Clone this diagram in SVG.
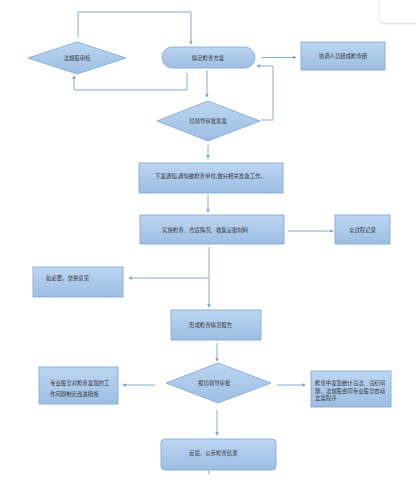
<svg xmlns="http://www.w3.org/2000/svg" width="416" height="498" viewBox="0 0 416 498">
<defs>
<linearGradient id="g" x1="0" y1="0" x2="0" y2="1">
<stop offset="0" stop-color="#bdd6f1"/>
<stop offset="1" stop-color="#9dbde3"/>
</linearGradient>
<marker id="a" viewBox="0 0 6 6" refX="5" refY="3" markerWidth="4" markerHeight="4" orient="auto" markerUnits="userSpaceOnUse">
<path d="M0,0 L6,3 L0,6 z" fill="#7ea6d2"/>
</marker>
<filter id="sh" x="-20%" y="-20%" width="140%" height="140%">
<feGaussianBlur stdDeviation="1.2"/>
</filter>
</defs>
<style>
.n{fill:url(#g);stroke:#86acd6;stroke-width:0.9}
.c{fill:none;stroke:#87aad4;stroke-width:1}
.t{font-family:"Noto Sans CJK SC","Noto Sans",sans-serif;font-size:5.4px;fill:#333}
</style>
<rect width="416" height="498" fill="#ffffff"/>
<g id="card">
<rect x="380" y="-10" width="48" height="34" rx="4" fill="#000" opacity="0.12" filter="url(#sh)"/>
<rect x="379" y="-10" width="48" height="33" rx="4" fill="#fff" stroke="#dcdcdc" stroke-width="0.6"/>
</g>
<g id="connectors">
<polyline class="c" points="78,37 78,12 191,12 191,44" marker-end="url(#a)"/>
<polyline class="c" points="187,73 187,90 74,90 74,76" marker-end="url(#a)"/>
<line class="c" x1="262" y1="57.5" x2="296" y2="57.5" marker-end="url(#a)"/>
<line class="c" x1="207" y1="70" x2="207" y2="97" marker-end="url(#a)"/>
<polyline class="c" points="261,120 273,120 273,66 257,66" marker-end="url(#a)"/>
<line class="c" x1="208" y1="145" x2="208" y2="158" marker-end="url(#a)"/>
<line class="c" x1="208" y1="195" x2="208" y2="212" marker-end="url(#a)"/>
<line class="c" x1="288" y1="231" x2="333" y2="231" marker-end="url(#a)"/>
<line class="c" x1="209" y1="247" x2="209" y2="307" marker-end="url(#a)"/>
<line class="c" x1="209" y1="278" x2="129" y2="278" marker-end="url(#a)"/>
<line class="c" x1="217" y1="343" x2="217" y2="361" marker-end="url(#a)"/>
<line class="c" x1="155" y1="385" x2="123" y2="385" marker-end="url(#a)"/>
<line class="c" x1="277" y1="385" x2="305" y2="385" marker-end="url(#a)"/>
<line class="c" x1="217" y1="410" x2="217" y2="435" marker-end="url(#a)"/>
</g>
<g id="n1">
<polygon class="n" points="28,58 77,42 126,58 77,74"/>
<text class="t" x="77" y="60" text-anchor="middle">法规股审核</text>
</g>
<g id="n2">
<rect class="n" x="162" y="47" width="93" height="21" rx="10.5"/>
<text class="t" x="208" y="59.5" text-anchor="middle">拟定检查方案</text>
</g>
<g id="n3">
<rect class="n" x="301" y="42" width="84" height="28"/>
<text class="t" x="343" y="58" text-anchor="middle">协调人员组成检查组</text>
</g>
<g id="n4">
<polygon class="n" points="157,121 208,101 260,121 208,141"/>
<text class="t" x="208" y="123" text-anchor="middle">局领导审批签发</text>
</g>
<g id="n5">
<rect class="n" x="139" y="163" width="144" height="30"/>
<text class="t" x="155" y="178">下发通知,通知被检查单位,做好相关准备工作。</text>
</g>
<g id="n6">
<rect class="n" x="140" y="215" width="144" height="29"/>
<text class="t" x="162" y="232">实施检查、合适情况、收集证据材料</text>
</g>
<g id="n7">
<rect class="n" x="335" y="215" width="55" height="29"/>
<text class="t" x="362.5" y="232" text-anchor="middle">全过程记录</text>
</g>
<g id="n8">
<rect class="n" x="33" y="267" width="90" height="30"/>
<text class="t" x="46" y="280">如必要，交换意见</text>
</g>
<g id="n9">
<rect class="n" x="171" y="310" width="90" height="30"/>
<text class="t" x="189" y="327">形成检查情况报告</text>
</g>
<g id="n10">
<polygon class="n" points="166,383 218,363 271,383 218,403"/>
<text class="t" x="198" y="385">报局领导审批</text>
</g>
<g id="n11">
<rect class="n" x="39" y="367" width="79" height="37"/>
<text class="t" x="50" y="385">专业股室对检查发现的工</text>
<text class="t" x="50" y="396">作问题制定改进措施</text>
</g>
<g id="n12">
<rect class="n" x="311" y="371" width="80" height="36"/>
<text class="t" x="315" y="385">检查中发现统计违法、违纪问</text>
<text class="t" x="315" y="392.5">题，法规股会同专业股室启动</text>
<text class="t" x="315" y="400">立案程序</text>
</g>
<g id="n13">
<rect class="n" x="161" y="439" width="115" height="31" rx="4"/>
<text class="t" x="189" y="455">反馈、公示检查结果</text>
</g>
<text x="209" y="474" font-family="Liberation Serif, serif" font-size="5" fill="#000" text-anchor="middle">1</text>
</svg>
